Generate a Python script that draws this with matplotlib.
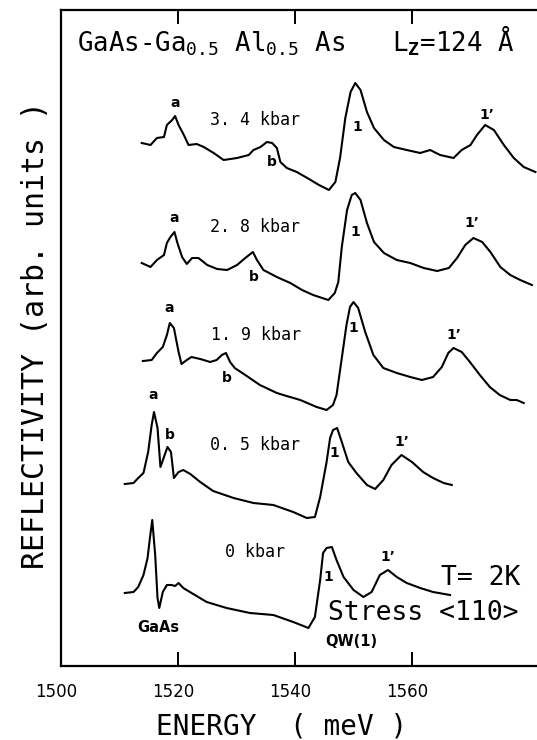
import matplotlib
matplotlib.use('Agg')
import matplotlib.pyplot as plt
import matplotlib.transforms as mtransforms

plt.rcParams['mathtext.fontset'] = 'custom'
plt.rcParams['mathtext.rm'] = 'DejaVu Sans Mono'
plt.rcParams['mathtext.it'] = 'DejaVu Sans Mono'
plt.rcParams['mathtext.bf'] = 'DejaVu Sans Mono:bold'

MONO = 'DejaVu Sans Mono'

# ── Reflectivity spectra (energy in meV, arb. units) ──
energy_34 = [1513.8, 1515.3, 1516.4, 1517.6, 1518.1, 1519.0, 1519.5, 1520.1, 1521.0,
             1521.8, 1523.2, 1524.4, 1526.1, 1527.8, 1530.1, 1532.1, 1532.9, 1534.1,
             1535.2, 1536.1, 1536.9, 1537.5, 1538.6, 1540.3, 1542.1, 1544.1, 1545.8,
             1546.9, 1547.7, 1548.6, 1549.5, 1550.3, 1551.2, 1552.3, 1553.5, 1555.2,
             1556.9, 1559.1, 1561.4, 1563.1, 1564.8, 1567.1, 1568.5, 1570.0, 1571.1,
             1572.5, 1574.0, 1575.7, 1577.4, 1579.1, 1581.1]
refl_34 = [52.3, 52.1, 52.8, 52.9, 54.1, 54.6, 55.0, 54.1, 53.1,
           52.1, 52.2, 51.9, 51.3, 50.6, 50.8, 51.1, 51.6, 51.9,
           52.4, 52.3, 51.8, 50.4, 49.8, 49.4, 48.8, 48.1, 47.6,
           48.4, 50.8, 54.8, 57.4, 58.3, 57.6, 55.4, 53.8, 52.6,
           51.9, 51.6, 51.3, 51.6, 51.1, 50.8, 51.6, 52.1, 53.1,
           54.1, 53.6, 52.1, 50.8, 49.9, 49.4]

energy_28 = [1513.8, 1515.3, 1516.4, 1517.6, 1518.1, 1518.7, 1519.4, 1519.9, 1520.7,
             1521.5, 1522.4, 1523.5, 1525.0, 1526.7, 1528.4, 1530.1, 1531.5, 1532.8,
             1533.5, 1534.6, 1536.9, 1539.2, 1541.2, 1543.1, 1545.7, 1546.8, 1547.4,
             1548.0, 1548.9, 1549.7, 1550.3, 1551.2, 1552.3, 1553.5, 1555.2, 1557.4,
             1559.7, 1562.0, 1564.3, 1566.3, 1567.7, 1569.1, 1570.5, 1572.0, 1573.4,
             1575.1, 1576.8, 1578.5, 1580.5]
refl_28 = [40.3, 39.9, 40.6, 41.1, 42.3, 42.9, 43.4, 42.3, 40.9,
           40.2, 40.8, 40.8, 40.1, 39.7, 39.6, 40.1, 40.8, 41.4,
           40.6, 39.6, 38.9, 38.3, 37.6, 37.1, 36.6, 37.3, 38.4,
           41.9, 45.6, 47.1, 47.3, 46.6, 44.3, 42.4, 41.3, 40.6,
           40.3, 39.8, 39.5, 39.8, 40.8, 42.1, 42.8, 42.4, 41.4,
           39.9, 39.1, 38.6, 38.1]

energy_19 = [1514.0, 1515.5, 1516.4, 1517.4, 1518.1, 1518.6, 1519.3, 1520.1, 1520.6,
             1521.5, 1522.3, 1523.8, 1525.5, 1526.6, 1527.5, 1528.2, 1528.9, 1529.7,
             1531.5, 1534.0, 1536.9, 1538.0, 1540.9, 1543.7, 1545.4, 1546.5, 1547.1,
             1548.0, 1548.8, 1549.4, 1550.0, 1550.8, 1552.0, 1553.4, 1555.1, 1557.4,
             1559.7, 1561.7, 1563.6, 1565.1, 1566.2, 1567.1, 1568.5, 1569.9, 1571.6,
             1573.3, 1575.0, 1576.8, 1577.9, 1579.1]
refl_19 = [30.5, 30.6, 31.3, 31.9, 33.1, 34.3, 33.8, 31.4, 30.2,
           30.6, 30.9, 30.7, 30.4, 30.6, 31.1, 31.3, 30.4, 29.8,
           29.1, 28.1, 27.3, 27.1, 26.6, 25.9, 25.6, 26.1, 27.1,
           30.8, 34.1, 35.9, 36.4, 35.8, 33.4, 31.1, 29.8, 29.3,
           28.9, 28.6, 28.9, 29.9, 31.3, 31.8, 31.4, 30.4, 29.1,
           27.9, 27.1, 26.6, 26.6, 26.3]

energy_05 = [1510.9, 1512.4, 1513.2, 1514.1, 1514.9, 1515.5, 1515.9, 1516.5, 1517.0,
             1517.6, 1518.2, 1518.8, 1519.3, 1520.1, 1520.9, 1522.1, 1523.8, 1526.0,
             1529.5, 1532.9, 1536.3, 1539.7, 1542.0, 1543.4, 1544.3, 1545.4, 1546.0,
             1546.5, 1547.2, 1548.0, 1549.1, 1550.5, 1552.3, 1553.7, 1555.1, 1556.5,
             1558.2, 1560.0, 1561.9, 1563.6, 1565.4, 1566.8]
refl_05 = [18.2, 18.3, 18.8, 19.3, 21.4, 24.1, 25.4, 23.8, 19.9,
           20.9, 21.9, 21.4, 18.8, 19.4, 19.6, 19.2, 18.4, 17.5,
           16.8, 16.3, 16.1, 15.4, 14.8, 14.9, 16.9, 20.4, 22.8,
           23.6, 23.8, 22.4, 20.4, 19.3, 18.1, 17.7, 18.6, 20.1,
           21.1, 20.4, 19.4, 18.8, 18.3, 18.1]

energy_00 = [1510.9, 1512.4, 1513.2, 1514.1, 1514.8, 1515.2, 1515.6, 1516.1, 1516.5,
             1516.8, 1517.4, 1518.1, 1518.9, 1519.5, 1520.1, 1520.9, 1522.6, 1524.9,
             1528.3, 1532.3, 1536.3, 1539.7, 1542.3, 1543.4, 1544.3, 1544.8, 1545.4,
             1546.3, 1547.1, 1548.3, 1550.0, 1551.7, 1553.1, 1554.5, 1555.9, 1557.4,
             1559.1, 1561.4, 1563.6, 1566.5]
refl_00 = [7.3, 7.4, 7.9, 9.1, 10.8, 12.8, 14.6, 11.1, 6.8,
           5.8, 7.4, 8.1, 8.1, 8.0, 8.3, 7.8, 7.2, 6.4,
           5.8, 5.3, 5.1, 4.4, 3.8, 4.9, 8.6, 11.3, 11.8,
           11.9, 10.6, 8.9, 7.6, 6.9, 7.4, 9.1, 9.6, 8.9,
           8.3, 7.8, 7.4, 7.1]

curves = [(energy_34, refl_34), (energy_28, refl_28), (energy_19, refl_19),
          (energy_05, refl_05), (energy_00, refl_00)]

# stress labels and where they sit (E, arb.)
stress_labels = ['3. 4 kbar', '2. 8 kbar', '1. 9 kbar', '0. 5 kbar', '0 kbar']
stress_pos = [(1533.2, 54.6), (1533.2, 43.9), (1533.3, 33.1), (1533.2, 22.1), (1533.2, 11.4)]

# peak markers
a_pos = [(1519.5, 56.3), (1519.4, 44.8), (1518.5, 35.8), (1515.8, 27.1)]
b_pos = [(1536.1, 50.4), (1532.9, 38.9), (1528.3, 28.8), (1518.6, 23.1)]
one_pos = [(1550.6, 53.9), (1550.3, 43.4), (1550.0, 33.8), (1546.8, 21.3), (1545.7, 8.9)]
onep_pos = [(1572.8, 55.1), (1570.3, 44.3), (1567.1, 33.1), (1558.2, 22.4), (1555.9, 10.9)]

sample_title = r'GaAs-Ga$_{0.5}$ Al$_{0.5}$ As   L$_{\mathbf{Z}}$=124 Å'

x_ticks = [1500, 1520, 1540, 1560]

fig = plt.figure(figsize=(5.37, 7.40), dpi=100)
ax = fig.add_axes([61 / 537, 74 / 740, 476 / 537, 656 / 740])

for e, r in curves:
    ax.plot(e, r, color='black', lw=1.5, solid_joinstyle='round')

ax.set_xlim(1500, 1500 + 476 / 5.85)
ax.set_ylim(0, 65.6)

for lab, (x, y) in zip(stress_labels, stress_pos):
    ax.text(x, y, lab, ha='center', va='center', fontsize=12, family=MONO)
for x, y in a_pos:
    ax.text(x, y, 'a', ha='center', va='center', fontsize=10, fontweight='bold')
for x, y in b_pos:
    ax.text(x, y, 'b', ha='center', va='center', fontsize=10, fontweight='bold')
for x, y in one_pos:
    ax.text(x, y, '1', ha='center', va='center', fontsize=10, fontweight='bold')
for x, y in onep_pos:
    ax.text(x, y, '1’', ha='center', va='center', fontsize=10, fontweight='bold')

ax.text(1502.7, 61.4, sample_title, ha='left', va='baseline', fontsize=18.5, family=MONO)

ax.text(1571.8, 8.8, 'T= 2K', ha='center', va='center', fontsize=19, family=MONO)
ax.text(1561.9, 5.3, 'Stress <110>', ha='center', va='center', fontsize=19, family=MONO)
ax.text(1516.6, 3.8, 'GaAs', ha='center', va='center', fontsize=10.5, fontweight='bold')
ax.text(1549.7, 2.4, 'QW(1)', ha='center', va='center', fontsize=10.5, fontweight='bold')

ax.set_xticks(x_ticks)
ax.set_yticks([])
ax.tick_params(axis='x', direction='in', length=10, width=1.4, top=True,
               labelsize=12, pad=12)
shift = mtransforms.ScaledTranslation(-5 / 100, 0, fig.dpi_scale_trans)
for lbl in ax.get_xticklabels():
    lbl.set_transform(lbl.get_transform() + shift)

ax.spines['right'].set_visible(False)
for s in ['left', 'top', 'bottom']:
    ax.spines[s].set_linewidth(1.6)

ax.set_xlabel('ENERGY  ( meV )', fontsize=20, family=MONO)
ax.set_ylabel('REFLECTIVITY (arb. units )', fontsize=21.5, family=MONO)
ax.xaxis.set_label_coords((282 - 61) / 476, -(712 - 666) / 656)
ax.yaxis.set_label_coords(-(61 - 50) / 476, (666 - 335) / 656)

fig.savefig('out.png', dpi=100)
